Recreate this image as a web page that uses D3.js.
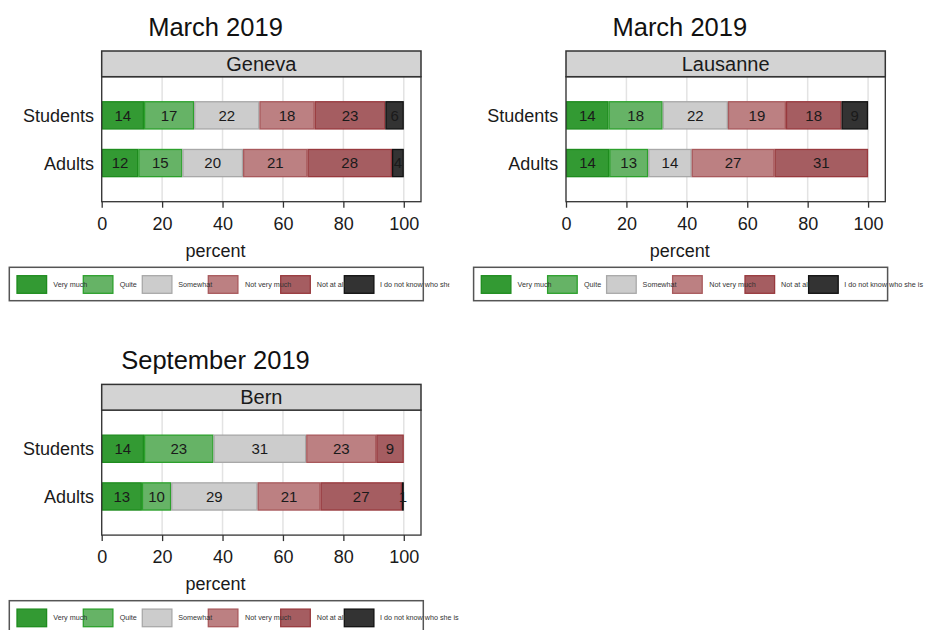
<!DOCTYPE html>
<html>
<head>
<meta charset="utf-8">
<script src="https://cdn.jsdelivr.net/npm/d3@7"></script>
<style>
  html, body { margin: 0; padding: 0; background: #fff; }
  svg { display: block; font-family: "Liberation Sans", Arial, sans-serif; }
</style>
</head>
<body>
<svg id="chart" width="928" height="630"></svg>
<script>
// ---------------- DATA ----------------
const categories = ["Very much", "Quite", "Somewhat", "Not very much", "Not at all", "I do not know who she is"];
const groups = ["Students", "Adults"];
const xTicks = [0, 20, 40, 60, 80, 100];

const panelTitles = ["March 2019", "March 2019", "September 2019"];
const cities = ["Geneva", "Lausanne", "Bern"];

// percent shares (bar widths), in category order
const genevaStudents   = [14.0, 16.6, 21.6, 18.3, 23.4, 6.1];
const genevaAdults     = [12.1, 14.6, 20.1, 21.3, 28.0, 3.9];
const lausanneStudents = [14.1, 17.9, 21.6, 19.2, 18.4, 8.8];
const lausanneAdults   = [14.3, 12.9, 14.4, 27.4, 31.0, 0];
const bernStudents     = [14.0, 23.0, 30.7, 23.2, 9.1, 0];
const bernAdults       = [13.3, 9.7, 28.6, 20.8, 27.0, 0.6];

const cityValues = [
  [genevaStudents, genevaAdults],
  [lausanneStudents, lausanneAdults],
  [bernStudents, bernAdults]
];

// ---------------- STYLE ----------------
const fills   = ["#339a33", "#66b366", "#cccccc", "#bc8082", "#a55d61", "#333333"];
const strokes = ["#1e8c1e", "#2ca02c", "#a8a8a8", "#a8595c", "#98393d", "#111111"];

// subfigure offsets
const offsets = [[0, 0], [464.3, 0], [0, 333.4]];
const legendClipW = [440, null, null];

const svg = d3.select("#chart");
const defs = svg.append("defs");

const plotL = 101.7, plotR = 421, plotT = 76.7, plotB = 201.7;
const stripT = 51;

const x = d3.scaleLinear().domain([0, 105.7]).range([plotL, plotR]);
const y = d3.scalePoint().domain(groups).range([plotT, plotB]).padding(0.81);
const barH = 28.4;

cityValues.forEach((vals, pi) => {
  const [ox, oy] = offsets[pi];
  const g = svg.append("g").attr("transform", `translate(${ox},${oy})`);

  // title
  g.append("text").attr("x", 215.5).attr("y", 36)
    .attr("text-anchor", "middle").attr("font-size", 25.5).attr("fill", "#111")
    .text(panelTitles[pi]);

  // gridlines
  g.append("g").selectAll("line").data(xTicks).join("line")
    .attr("x1", d => x(d)).attr("x2", d => x(d))
    .attr("y1", plotT).attr("y2", plotB)
    .attr("stroke", "#e3e3e3").attr("stroke-width", 1.5);

  // bars
  groups.forEach((grp, gi) => {
    const v = vals[gi];
    let cum = 0;
    const segs = v.map((d, i) => { const s = { i, x0: cum, x1: cum + d, v: d }; cum += d; return s; });
    const bg = g.append("g");
    bg.selectAll("rect").data(segs.filter(s => s.v > 0)).join("rect")
      .attr("x", s => x(s.x0) + 0.6)
      .attr("width", s => Math.max(0.1, x(s.x1) - x(s.x0) - 1.2))
      .attr("y", y(grp) - barH / 2 + 0.6)
      .attr("height", barH - 1.2)
      .attr("fill", s => fills[s.i])
      .attr("stroke", s => strokes[s.i])
      .attr("stroke-width", 1.3);
    bg.selectAll("text").data(segs.filter(s => s.v > 0)).join("text")
      .attr("x", s => x((s.x0 + s.x1) / 2))
      .attr("y", y(grp))
      .attr("dy", "0.36em")
      .attr("text-anchor", "middle")
      .attr("font-size", 15)
      .attr("fill", "#1a1a1a")
      .text(s => Math.round(s.v));
  });

  // frame
  g.append("rect").attr("x", plotL).attr("y", plotT)
    .attr("width", plotR - plotL).attr("height", plotB - plotT)
    .attr("fill", "none").attr("stroke", "#333").attr("stroke-width", 1.3);

  // strip
  g.append("rect").attr("x", plotL).attr("y", stripT)
    .attr("width", plotR - plotL).attr("height", plotT - stripT)
    .attr("fill", "#d3d3d3").attr("stroke", "#333").attr("stroke-width", 1.5);
  g.append("text").attr("x", (plotL + plotR) / 2).attr("y", (stripT + plotT) / 2)
    .attr("dy", "0.36em").attr("text-anchor", "middle")
    .attr("font-size", 20).attr("fill", "#1a1a1a").text(cities[pi]);

  // y labels
  g.append("g").selectAll("text").data(groups).join("text")
    .attr("x", 94).attr("y", d => y(d)).attr("dy", "0.36em")
    .attr("text-anchor", "end").attr("font-size", 18).attr("fill", "#1a1a1a")
    .text(d => d);

  // x axis
  const ax = g.append("g").attr("transform", `translate(0,${plotB})`)
    .call(d3.axisBottom(x).tickValues(xTicks).tickSize(6).tickPadding(9.5).tickSizeOuter(0));
  ax.select(".domain").remove();
  ax.selectAll(".tick line").attr("stroke", "#333").attr("stroke-width", 1.3);
  ax.selectAll(".tick text").attr("font-size", 18).attr("fill", "#1a1a1a")
    .attr("font-family", "Liberation Sans, Arial, sans-serif");

  g.append("text").attr("x", 215.5).attr("y", 257)
    .attr("text-anchor", "middle").attr("font-size", 18).attr("fill", "#1a1a1a")
    .text("percent");

  // legend
  const lx = 9.3, ly = 267.3, lw = 414, lh = 33.4;
  const lg = g.append("g");
  const clipId = "legclip" + pi;
  if (legendClipW[pi]) {
    defs.append("clipPath").attr("id", clipId)
      .append("rect").attr("x", ox + lx).attr("y", oy + ly).attr("width", legendClipW[pi]).attr("height", lh);
  }
  lg.append("rect").attr("x", lx).attr("y", ly).attr("width", lw).attr("height", lh)
    .attr("fill", "#fff").attr("stroke", "#555").attr("stroke-width", 1.5);
  const keyOff = [7.7, 74, 133, 199, 271.4, 335];
  const txtOff = [44, 110.4, 169, 235.7, 307.4, 370.7];
  const items = lg.append("g");
  if (legendClipW[pi]) items.attr("clip-path", `url(#${clipId})`);
  const ordered = categories.map((c, i) => i);
  items.selectAll("rect").data(ordered).join("rect")
    .attr("x", i => lx + keyOff[i]).attr("y", ly + 8.4)
    .attr("width", 29.6).attr("height", 17.6)
    .attr("fill", i => fills[i]).attr("stroke", i => strokes[i]).attr("stroke-width", 1.3);
  items.selectAll("text").data(ordered).join("text")
    .attr("x", i => lx + txtOff[i]).attr("y", ly + 17.2).attr("dy", "0.35em")
    .attr("font-size", 7.2).attr("fill", "#333")
    .text(i => categories[i]);
});
</script>
</body>
</html>
